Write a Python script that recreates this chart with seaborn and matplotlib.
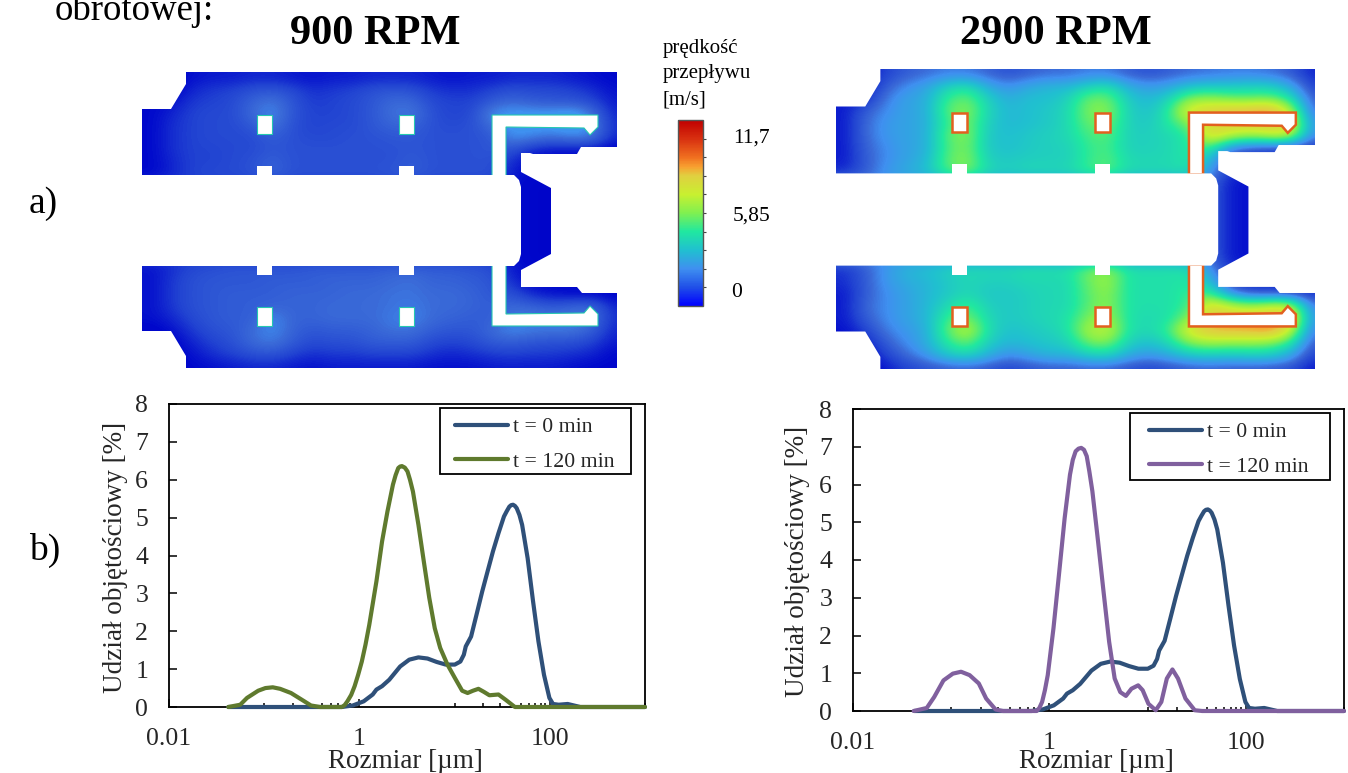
import numpy as np
import pandas as pd
import matplotlib
matplotlib.use('Agg')
import matplotlib.pyplot as plt
import seaborn as sns
from matplotlib.cm import ScalarMappable
from matplotlib.colors import LinearSegmentedColormap, Normalize
from matplotlib.patches import Polygon, Rectangle
from matplotlib.ticker import FixedLocator, FixedFormatter, NullFormatter

W, H = 1348, 773

# particle size distributions
size_t0 = [0.042, 0.655, 0.853, 1.11, 1.38, 1.51, 1.73, 2.06, 2.68, 3.34, 4.17, 5.19, 6.47, 8.06, 10.05, 11.5, 12.5, 13.1,
           14.9, 17.0, 19.5, 22.2, 25.3, 28.9, 33.0, 35.3, 37.6, 39.3, 41.1, 43, 44.9, 48, 51.2, 58.5, 66.7, 76.0, 86.9, 99, 108, 124, 154, 209, 1000]
vol_t0 = [0, 0, 0.04, 0.15, 0.33, 0.46, 0.55, 0.72, 1.07, 1.25, 1.31, 1.28, 1.19, 1.12, 1.12, 1.2, 1.38, 1.6,
          1.86, 2.44, 3.05, 3.58, 4.11, 4.59, 5.03, 5.17, 5.29, 5.33, 5.34, 5.31, 5.25, 5.07, 4.81, 3.93, 2.79, 1.73, 0.85, 0.24, 0.08, 0.06, 0.08, 0, 0]

size_900 = [0.042, 0.056, 0.066, 0.0865, 0.103, 0.123, 0.147, 0.191, 0.249, 0.31, 0.386, 0.655, 0.7, 0.748, 0.82, 0.891, 0.97, 1.06, 1.16, 1.27, 1.51, 1.73,
            1.97, 2.25, 2.4, 2.56, 2.68, 2.8, 3.0, 3.2, 3.4, 3.65, 4.17, 4.75, 5.42, 6.19, 7.06, 8.41, 10.05, 12, 13.7, 15.6, 17.8, 20.3, 23.2, 28.9, 34.4, 43, 1000]
vol_900 = [0, 0.06, 0.24, 0.43, 0.5, 0.52, 0.48, 0.37, 0.19, 0.04, 0, 0, 0.05, 0.15, 0.32, 0.55, 0.85, 1.2, 1.65, 2.17, 3.32, 4.37,
           5.16, 5.87, 6.12, 6.31, 6.35, 6.36, 6.32, 6.22, 6.0, 5.69, 4.81, 3.84, 2.88, 2.08, 1.56, 1.12, 0.77, 0.43, 0.37, 0.43, 0.48, 0.4, 0.31, 0.33, 0.19, 0, 0]

size_2900 = [0.0415, 0.0564, 0.0671, 0.0834, 0.104, 0.126, 0.154, 0.191, 0.227, 0.283, 0.337, 0.74, 0.79, 0.843, 0.9, 0.962, 1.1, 1.25, 1.43, 1.62, 1.73,
             1.85, 1.98, 2.11, 2.25, 2.4, 2.55, 2.74, 3.13, 3.56, 4.06, 4.62, 5.27, 6.01, 6.85, 8.02, 8.91, 10.2, 12.1, 13.8, 15.7, 17.9, 20.4, 24.3, 30.2, 36, 1000]
vol_2900 = [0, 0.08, 0.37, 0.81, 0.99, 1.04, 0.95, 0.73, 0.33, 0.04, 0, 0, 0.08, 0.24, 0.55, 0.95, 2.19, 3.6, 5.11, 6.26, 6.65,
            6.88, 6.95, 6.97, 6.92, 6.75, 6.35, 5.82, 4.49, 3.16, 1.83, 0.86, 0.5, 0.4, 0.59, 0.68, 0.55, 0.19, 0.02, 0.24, 0.86, 1.1, 0.86, 0.33, 0.02, 0, 0]

x_major = [0.01, 1, 100]
x_labels = ['0.01', '1', '100']
x_minor = [0.1, 0.2, 0.3, 0.4, 0.5, 0.6, 0.7, 0.8, 0.9, 10, 20, 30, 40, 50, 60, 70, 80, 90, 1000]
y_ticks = [0, 1, 2, 3, 4, 5, 6, 7, 8]

# flow field, colour bar position in percent (0 bottom, 100 top), rows top to bottom, estimated by eye
rows_900 = [
    [3, 3, 5, 6, 6, 7, 7, 6, 5, 6, 6, 7, 7, 7, 6, 5, 6, 6, 7, 7, 7, 6, 5, 4],
    [3, 3, 7, 9, 10, 12, 13, 11, 8, 9, 10, 12, 13, 12, 9, 8, 8, 10, 12, 11, 11, 10, 8, 5],
    [4, 5, 9, 10, 11, 15, 18, 13, 9, 10, 11, 13, 16, 16, 11, 10, 10, 14, 16, 14, 13, 13, 11, 6],
    [4, 7, 10, 11, 11, 16, 20, 13, 10, 10, 11, 13, 17, 18, 12, 10, 11, 20, 22, 22, 22, 24, 18, 7],
    [4, 8, 10, 11, 11, 13, 18, 12, 10, 11, 11, 13, 15, 15, 12, 11, 12, 16, 22, 22, 22, 24, 20, 8],
    [4, 8, 10, 11, 11, 11, 14, 12, 11, 11, 12, 12, 13, 13, 12, 12, 12, 13, 20, 18, 16, 18, 18, 7],
    [4, 8, 10, 10, 11, 11, 13, 12, 12, 12, 12, 12, 12, 13, 12, 12, 12, 13, 12, 7, 5, 5, 4, 3],
    [4, 7, 10, 10, 11, 12, 15, 12, 12, 12, 12, 12, 12, 14, 12, 12, 12, 12, 8, 4, 4, 4, 4, 4],
    [4, 7, 10, 11, 11, 12, 15, 12, 12, 12, 12, 12, 13, 14, 12, 12, 12, 12, 6, 4, 4, 4, 4, 4],
    [9, 9, 9, 9, 9, 9, 9, 9, 9, 9, 9, 9, 9, 9, 9, 9, 9, 9, 5, 3, 3, 3, 3, 3],
    [9, 9, 9, 9, 9, 9, 9, 9, 9, 9, 9, 9, 9, 9, 9, 9, 9, 9, 5, 3, 3, 3, 3, 3],
    [9, 9, 9, 9, 9, 9, 9, 9, 9, 9, 9, 9, 9, 9, 9, 9, 9, 9, 5, 3, 3, 3, 3, 3],
    [9, 9, 9, 9, 9, 9, 9, 9, 9, 9, 9, 9, 9, 9, 9, 9, 9, 9, 5, 3, 3, 3, 3, 3],
    [9, 9, 9, 9, 9, 9, 9, 9, 9, 9, 9, 9, 9, 9, 9, 9, 9, 9, 5, 3, 3, 3, 3, 3],
    [9, 9, 9, 9, 9, 9, 9, 9, 9, 9, 9, 9, 9, 9, 9, 9, 9, 9, 5, 3, 3, 3, 3, 3],
    [9, 9, 9, 9, 9, 9, 9, 9, 9, 9, 9, 9, 9, 9, 9, 9, 9, 9, 5, 3, 3, 3, 3, 3],
    [5, 8, 11, 12, 13, 13, 13, 13, 14, 14, 14, 14, 15, 15, 14, 14, 13, 12, 6, 4, 4, 4, 4, 4],
    [5, 9, 12, 13, 13, 13, 14, 14, 14, 15, 15, 15, 16, 17, 15, 15, 14, 13, 8, 4, 4, 4, 4, 4],
    [5, 9, 12, 13, 14, 14, 14, 15, 15, 15, 16, 16, 17, 17, 16, 16, 15, 13, 12, 7, 5, 4, 4, 3],
    [5, 9, 12, 13, 14, 14, 15, 15, 15, 16, 16, 16, 17, 18, 16, 16, 15, 14, 16, 15, 13, 15, 16, 7],
    [5, 7, 11, 13, 14, 14, 20, 15, 15, 16, 16, 16, 18, 19, 16, 15, 14, 14, 18, 18, 18, 18, 18, 8],
    [3, 5, 9, 12, 13, 16, 20, 15, 13, 14, 14, 15, 17, 17, 14, 13, 13, 16, 20, 18, 18, 18, 15, 7],
    [3, 3, 7, 10, 12, 16, 18, 14, 11, 12, 12, 14, 14, 14, 11, 10, 11, 14, 14, 13, 12, 12, 10, 6],
    [2, 3, 5, 8, 10, 12, 13, 10, 8, 9, 9, 10, 10, 10, 8, 7, 8, 9, 10, 9, 9, 8, 7, 4],
    [3, 3, 4, 5, 6, 7, 7, 6, 5, 6, 6, 6, 6, 6, 5, 5, 5, 6, 6, 6, 6, 5, 4, 4],
]
rows_2900 = [
    [5, 5, 10, 14, 16, 18, 18, 15, 12, 14, 16, 16, 18, 18, 14, 12, 14, 16, 17, 18, 18, 17, 14, 7],
    [5, 5, 14, 20, 24, 34, 38, 26, 20, 25, 28, 28, 34, 38, 26, 22, 24, 30, 32, 32, 34, 34, 26, 10],
    [6, 7, 18, 24, 26, 42, 48, 34, 26, 30, 30, 34, 48, 48, 32, 28, 34, 50, 52, 48, 46, 48, 40, 14],
    [6, 14, 20, 24, 26, 46, 52, 36, 28, 30, 32, 36, 50, 52, 34, 30, 40, 66, 70, 74, 76, 80, 60, 16],
    [6, 16, 22, 24, 26, 42, 50, 34, 28, 30, 32, 36, 48, 48, 34, 32, 40, 50, 66, 70, 70, 72, 70, 22],
    [6, 16, 22, 24, 26, 46, 52, 32, 30, 32, 34, 36, 44, 46, 34, 34, 36, 40, 70, 60, 55, 60, 62, 20],
    [6, 15, 20, 24, 26, 44, 50, 32, 30, 32, 34, 34, 42, 44, 34, 34, 36, 40, 44, 20, 14, 12, 10, 8],
    [6, 14, 20, 24, 28, 46, 52, 34, 32, 34, 34, 34, 42, 46, 36, 36, 36, 40, 30, 10, 6, 6, 6, 6],
    [8, 14, 22, 26, 30, 44, 50, 36, 34, 36, 36, 36, 42, 46, 36, 36, 36, 38, 22, 8, 6, 6, 6, 6],
    [20, 20, 20, 20, 20, 20, 20, 20, 20, 20, 20, 20, 20, 20, 20, 20, 20, 20, 15, 6, 5, 5, 5, 5],
    [20, 20, 20, 20, 20, 20, 20, 20, 20, 20, 20, 20, 20, 20, 20, 20, 20, 20, 15, 6, 5, 5, 5, 5],
    [20, 20, 20, 20, 20, 20, 20, 20, 20, 20, 20, 20, 20, 20, 20, 20, 20, 20, 15, 6, 5, 5, 5, 5],
    [20, 20, 20, 20, 20, 20, 20, 20, 20, 20, 20, 20, 20, 20, 20, 20, 20, 20, 15, 6, 5, 5, 5, 5],
    [20, 20, 20, 20, 20, 20, 20, 20, 20, 20, 20, 20, 20, 20, 20, 20, 20, 20, 15, 6, 5, 5, 5, 5],
    [20, 20, 20, 20, 20, 20, 20, 20, 20, 20, 20, 20, 20, 20, 20, 20, 20, 20, 15, 6, 5, 5, 5, 5],
    [20, 20, 20, 20, 20, 20, 20, 20, 20, 20, 20, 20, 20, 20, 20, 20, 20, 20, 15, 6, 5, 5, 5, 5],
    [8, 14, 22, 28, 30, 34, 36, 36, 36, 38, 38, 38, 48, 52, 38, 38, 38, 38, 22, 8, 6, 6, 6, 6],
    [8, 14, 22, 26, 28, 32, 36, 34, 34, 36, 36, 36, 48, 54, 38, 38, 38, 40, 30, 10, 6, 6, 6, 6],
    [6, 14, 20, 24, 28, 32, 36, 32, 32, 34, 36, 36, 46, 52, 38, 38, 38, 42, 44, 22, 12, 12, 10, 8],
    [6, 16, 20, 24, 28, 36, 44, 34, 32, 34, 36, 36, 46, 52, 38, 38, 38, 42, 70, 60, 55, 60, 62, 18],
    [6, 14, 20, 24, 28, 42, 50, 36, 32, 34, 36, 38, 50, 54, 38, 36, 38, 50, 70, 72, 72, 74, 76, 22],
    [5, 10, 18, 22, 26, 46, 60, 38, 30, 32, 34, 38, 56, 60, 38, 36, 42, 66, 74, 76, 76, 80, 64, 18],
    [4, 6, 14, 20, 26, 40, 48, 34, 28, 30, 32, 34, 48, 50, 34, 30, 36, 50, 54, 52, 52, 50, 42, 14],
    [3, 4, 10, 16, 22, 32, 36, 28, 20, 24, 28, 28, 34, 36, 26, 22, 26, 32, 34, 32, 34, 34, 26, 10],
    [3, 3, 6, 10, 12, 14, 15, 13, 10, 12, 14, 14, 15, 15, 12, 10, 12, 14, 15, 14, 14, 13, 12, 6],
]

# vessel outline and the white solid parts, same units for both maps
housing = [(186, 72), (617, 72), (617, 147), (581, 147), (577, 154), (533, 154), (530, 153), (521, 153), (521, 172), (551, 188),
           (551, 254), (521, 270), (521, 287), (530, 287), (533, 287), (577, 287), (582, 293), (617, 293), (617, 368), (186, 368),
           (186, 356), (171, 331), (142, 331), (142, 109), (171, 109), (186, 84)]
shaft = [(142, 175), (514, 175), (519, 180), (521, 187), (521, 254), (519, 261), (514, 266), (142, 266)]
arm_top = [(492, 115), (598, 115), (598, 127), (590, 135), (584, 128), (506, 127), (506, 176), (492, 176)]
arm_bottom = [(492, 326), (598, 326), (598, 314), (590, 306), (584, 313), (506, 314), (506, 265), (492, 265)]
blades = [[(257, 115), (272, 115), (272, 134), (257, 134)], [(399, 115), (414, 115), (414, 134), (399, 134)],
          [(257, 307), (272, 307), (272, 326), (257, 326)], [(399, 307), (414, 307), (414, 326), (399, 326)]]
stubs = [[(257, 166), (272, 166), (272, 176), (257, 176)], [(399, 166), (414, 166), (414, 176), (399, 176)],
         [(257, 265), (272, 265), (272, 275), (257, 275)], [(399, 265), (414, 265), (414, 275), (399, 275)]]

upper_colors = [(0.3, '#20c0d0'), (0.4, '#20e8a0'), (0.5, '#80f050'), (0.6, '#c8f030'), (0.7, '#e0d040'), (0.75, '#f8a030'),
                (0.8, '#f07020'), (0.9, '#d83010'), (1, '#c00000')]
bar_cmap = LinearSegmentedColormap.from_list('bar', [(0, '#0000ff'), (0.1, '#2050e8'), (0.2, '#3f90f0')] + upper_colors)
# the maps go darker at the walls than the bar does at its bottom
map_cmap = LinearSegmentedColormap.from_list('map', [(0, '#0000c4'), (0.04, '#0008cc'), (0.1, '#2244d2'), (0.16, '#3a6ad8'),
                                                     (0.2, '#3f90f0')] + upper_colors)

sns.set_theme(style='ticks')
plt.rcParams['font.family'] = ['Liberation Serif', 'DejaVu Serif']

fig = plt.figure(figsize=(W / 100, H / 100), dpi=100)


def px_axes(left, top, right, bottom):
    return fig.add_axes([left / W, 1 - bottom / H, (right - left) / W, (bottom - top) / H])


def px_text(x, y, s, **kw):
    fig.text(x / W, 1 - y / H, s, va='baseline', color='black', **kw)


def draw_map(ax, rows, halo, halo_width):
    im = ax.imshow(np.array(rows), extent=(142, 622, 372, 72), cmap=map_cmap, vmin=0, vmax=100,
                   interpolation='bicubic', aspect='auto')
    outline = Polygon(housing, closed=True, transform=ax.transData, fc='none', ec='none')
    ax.add_patch(outline)
    im.set_clip_path(outline)
    for pts in blades + [arm_top, arm_bottom]:
        ax.add_patch(Polygon(pts, closed=True, fc='white', ec=halo, lw=halo_width, zorder=3))
    for pts in stubs + [shaft]:
        ax.add_patch(Polygon(pts, closed=True, fc='white', ec='none', zorder=4))
    ax.set_xlim(142, 617)
    ax.set_ylim(368, 72)
    ax.axis('off')


def draw_psd(ax, size_new, vol_new, color_new):
    df = pd.concat([
        pd.DataFrame({'size': size_t0, 'vol': vol_t0, 'series': 't = 0 min'}),
        pd.DataFrame({'size': size_new, 'vol': vol_new, 'series': 't = 120 min'}),
    ])
    sns.lineplot(data=df, x='size', y='vol', hue='series', palette=['#2f5079', color_new], estimator=None,
                 sort=False, lw=3.0, clip_on=False, ax=ax, zorder=5)
    ax.set_xscale('log')
    ax.set_xlim(0.01, 1000)
    ax.set_ylim(0, 8)
    ax.set_yticks(y_ticks)
    ax.xaxis.set_major_locator(FixedLocator(x_major))
    ax.xaxis.set_major_formatter(FixedFormatter(x_labels))
    ax.xaxis.set_minor_locator(FixedLocator(x_minor))
    ax.xaxis.set_minor_formatter(NullFormatter())
    ax.tick_params(axis='both', which='major', direction='in', length=6, width=1.1, labelsize=18.5, pad=15, color='black')
    ax.tick_params(axis='x', which='minor', direction='in', length=3, width=1.1, color='black')
    for spine in ax.spines.values():
        spine.set_visible(True)
        spine.set_linewidth(1.3)
        spine.set_color('black')
    ax.set_xlabel('Rozmiar [µm]', fontsize=19.5, va='baseline')
    ax.set_ylabel('Udział objętościowy [%]', fontsize=19.5, va='center')


def draw_legend(ax, left, top, right, bottom, line_x, first_row_y):
    # the box has more margin than the legend pads allow, so it is a patch of its own
    ax.add_patch(Rectangle((left / W, 1 - bottom / H), (right - left) / W, (bottom - top) / H, transform=fig.transFigure,
                           fc='white', ec='black', lw=1.3, zorder=6, clip_on=False))
    leg = ax.legend(loc='upper left', bbox_to_anchor=(line_x / W, 1 - (first_row_y - 7) / H), bbox_transform=fig.transFigure,
                    fontsize=15.7, frameon=False, handlelength=2.42, handletextpad=0.23, labelspacing=0.66,
                    borderpad=0, borderaxespad=0)
    leg.set_zorder(7)


# flow maps
draw_map(px_axes(142, 72, 617, 368), rows_900, '#25c8b0', 0.8)
draw_map(px_axes(836, 69, 1315, 369), rows_2900, '#e2601f', 1.8)

# colour bar, its numbers sit a little off the ticks
cax = px_axes(678, 120, 703, 306)
cb = fig.colorbar(ScalarMappable(Normalize(0, 100), bar_cmap), cax=cax)
cb.set_ticks([10, 20, 30, 40, 50, 60, 70, 80, 90])
cb.set_ticklabels([])
cax.tick_params(axis='y', length=2.5, width=0.8, color='#444444')
cb.outline.set_edgecolor('#555555')
cb.outline.set_linewidth(1)
px_text(733, 143, '11,7', fontsize=15.5)
px_text(733, 221, '5,85', fontsize=15.5)
px_text(731, 297, '0', fontsize=15.5)

# size distributions
ax_psd_900 = px_axes(169, 404, 645, 707)
draw_psd(ax_psd_900, size_900, vol_900, '#5f7a2e')
ax_psd_900.xaxis.set_label_coords(0.497, -(768 - 707) / 303)
ax_psd_900.yaxis.set_label_coords(-0.113, 0.495)
draw_legend(ax_psd_900, 440, 408, 631, 474, 455, 424)

ax_psd_2900 = px_axes(853, 409, 1344, 711)
draw_psd(ax_psd_2900, size_2900, vol_2900, '#80609e')
ax_psd_2900.xaxis.set_label_coords(0.495, -(768 - 711) / 302)
ax_psd_2900.yaxis.set_label_coords(-0.114, 0.495)
draw_legend(ax_psd_2900, 1130, 413, 1330, 480, 1149, 429)

# loose texts on the figure
px_text(55, 20, 'obrotowej:', fontsize=26.5)
px_text(375, 44, '900 RPM', fontsize=30.5, fontweight='bold', ha='center')
px_text(1056, 44, '2900 RPM', fontsize=30.5, fontweight='bold', ha='center')
px_text(29, 213, 'a)', fontsize=27)
px_text(29, 560, 'b)', fontsize=27)
px_text(663, 53, 'prędkość', fontsize=15)
px_text(663, 78, 'przepływu', fontsize=15)
px_text(663, 104, '[m/s]', fontsize=15)

plt.savefig('out.png', dpi=100)
